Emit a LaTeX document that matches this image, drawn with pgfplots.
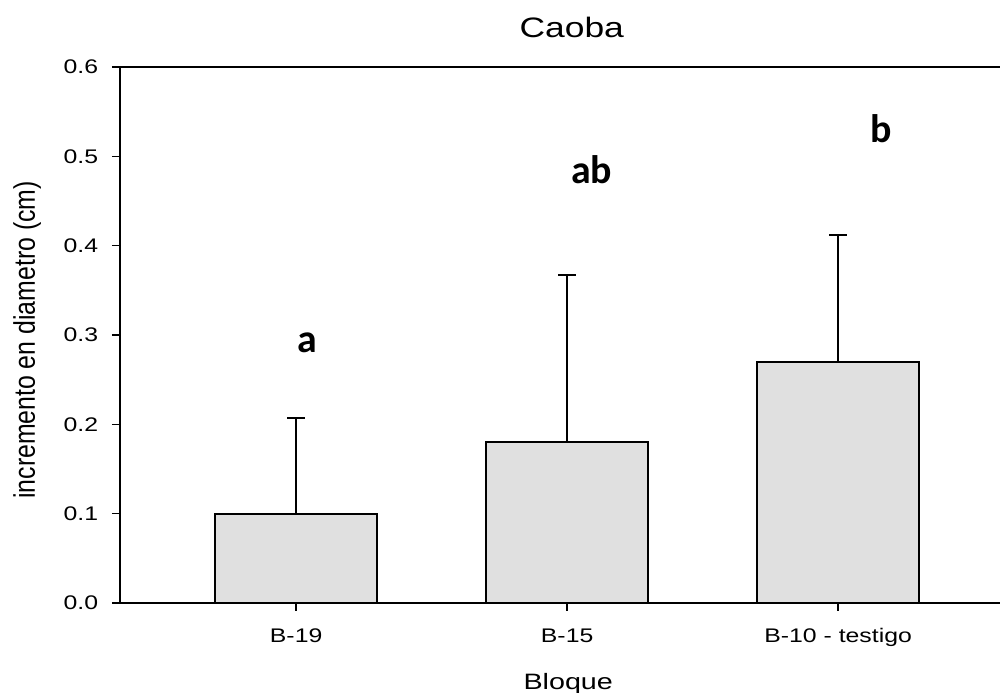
\documentclass[border=0pt]{standalone}
\usepackage{graphicx}
\usepackage{pgfplots}
\pgfplotsset{compat=1.18}
\usepackage{fontspec}
\setmainfont{Liberation Sans}
\newfontfamily\carlito{Carlito}
\definecolor{barfill}{RGB}{224,224,224}
\newcommand{\wide}[1]{\scalebox{1.26}[1]{#1}}
\begin{document}
\begin{tikzpicture}
\begin{axis}[
  scale only axis,
  width=13.4145cm, height=8.04cm,
  xmin=-0.65, xmax=2.65, ymin=0, ymax=0.6,
  xtick={0,1,2},
  xticklabels={\wide{B-19}, \wide{B-15}, \wide{B-10 - testigo}},
  ytick={0,0.1,0.2,0.3,0.4,0.5,0.6},
  yticklabel={\wide{\pgfmathprintnumber[fixed,fixed zerofill,precision=1,assume math mode=true]{\tick}}},
  yticklabel style={xshift=-0.084cm},
  tick align=outside,
  xtick pos=bottom, ytick pos=left,
  major tick length=0.12cm,
  axis line style={line width=0.7pt},
  every tick/.style={line width=0.7pt, black},
  tick label style={font=\fontsize{8.4}{10}\selectfont},
  xticklabel style={anchor=base, yshift=-0.48cm},
  clip=false,
]
\addplot[ybar, bar width=0.6, fill=barfill, draw=black, line width=0.85pt,
  error bars/.cd, y dir=plus, y explicit,
  error bar style={line width=0.7pt, black},
  error mark options={rotate=90, line width=0.7pt, black, mark size=0.135cm}]
  coordinates {
    (0,0.10) +- (0,0.107)
    (1,0.18) +- (0,0.187)
    (2,0.27) +- (0,0.142)
  };
\node[font=\carlito\bfseries\fontsize{17}{20}\selectfont, anchor=base] at (axis cs:0.04,0.2806) {a};
\node[font=\carlito\bfseries\fontsize{17}{20}\selectfont, anchor=base] at (axis cs:1.09,0.470) {ab};
\node[font=\carlito\bfseries\fontsize{17}{20}\selectfont, anchor=base] at (axis cs:2.16,0.516) {b};
\node[font=\fontsize{12}{14}\selectfont, anchor=base] at (axis cs:1.017,0.6328) {\wide{Caoba}};
\node[font=\fontsize{9.5}{11}\selectfont, anchor=base] at (axis cs:1.004,-0.0963) {\scalebox{1.29}[1]{Bloque}};
\node[font=\fontsize{10.6}{12}\selectfont, rotate=90] at (axis cs:-0.9926,0.2944) {\scalebox{1}[1.2]{incremento en diametro (cm)}};
\end{axis}
\pgfresetboundingbox
\useasboundingbox (-1.8cm,-1.35cm) rectangle (13.2cm,9.045cm);
\end{tikzpicture}
\end{document}
